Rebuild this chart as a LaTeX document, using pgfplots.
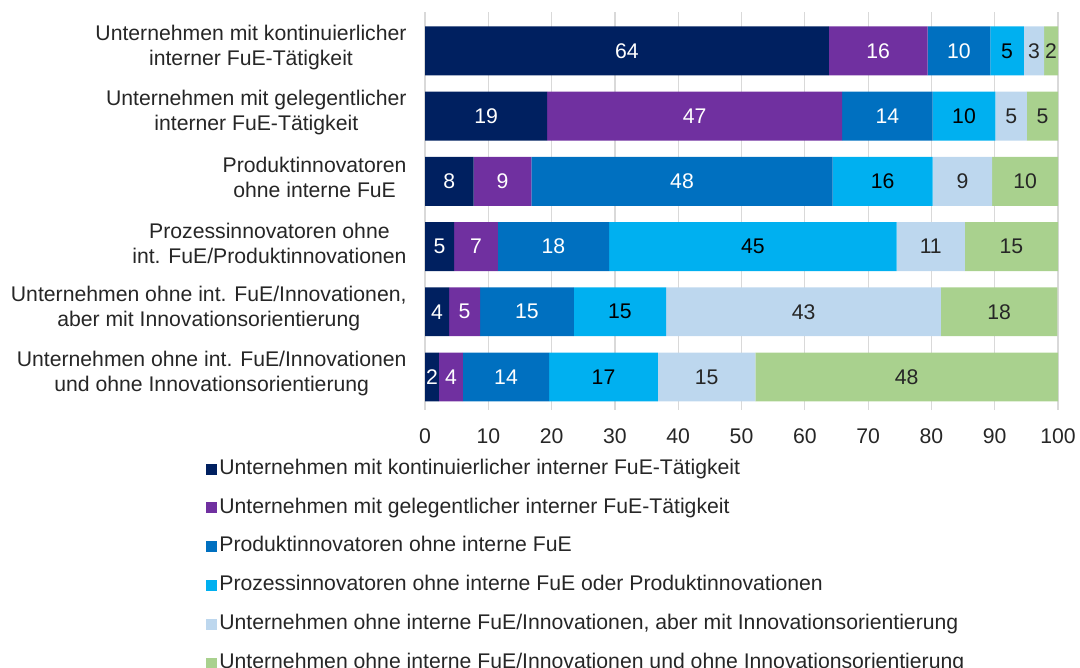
\documentclass[border=0pt]{standalone}
\usepackage{pgfplots}
\pgfplotsset{compat=1.18}
\usepackage{pgfplotstable}
\usepackage{fontspec}
\setmainfont{Liberation Sans}
\definecolor{c1}{HTML}{002060}
\definecolor{c2}{HTML}{7030A0}
\definecolor{c3}{HTML}{0070C0}
\definecolor{c4}{HTML}{00B0F0}
\definecolor{c5}{HTML}{BDD7EE}
\definecolor{c6}{HTML}{A9D18E}
\definecolor{gridc}{HTML}{D9D9D9}
\definecolor{txt}{HTML}{262626}

\pgfplotstableread{
row s1 s2 s3 s4 s5 s6
5 63.8 15.6 9.9 5.3 3.2 2.2
4 19.3 46.6 14.3 9.9 5.0 4.9
3 7.7 9.1 47.6 15.8 9.4 10.4
2 4.6 6.9 17.6 45.4 10.8 14.7
1 3.8 4.9 14.8 14.6 43.4 18.4
0 2.2 3.8 13.6 17.2 15.4 47.8
}\datatable

\pgfplotsset{
  seg/.style n args={3}{
    fill=#2, draw=none,
    visualization depends on={\thisrow{#1}\as\val},
    nodes near coords={\pgfmathprintnumber[fixed,precision=0]{\val}},
    every node near coord/.append style={anchor=center, text=#3, font=\fontsize{10.6}{12}\selectfont},
  },
}

\begin{document}
\begin{tikzpicture}
\path[use as bounding box] (0,0) rectangle (540pt,-334pt);
\begin{axis}[
  at={(212.5pt,-204.8pt)}, anchor=south west,
  scale only axis, width=316.5pt, height=198.9pt,
  xbar stacked, bar width=0.75,
  xmin=0, xmax=100, ymin=-0.5, ymax=5.6,
  xtick={0,10,...,100},
  ytick={0,...,5},
  yticklabels={
    {Unternehmen ohne int. FuE/Innovationen\\und ohne Innovationsorientierung},
    {Unternehmen ohne int. FuE/Innovationen,\\aber mit Innovationsorientierung},
    {Prozessinnovatoren ohne\\int. FuE/Produktinnovationen},
    {Produktinnovatoren\\ohne interne FuE},
    {Unternehmen mit gelegentlicher\\interner FuE-Tätigkeit},
    {Unternehmen mit kontinuierlicher\\interner FuE-Tätigkeit}},
  font=\fontsize{10.6}{12.5}\selectfont,
  yticklabel style={align=center, xshift=-5.7pt, yshift=1.75pt, text=txt},
  xticklabel style={yshift=-6pt, text=txt},
  /pgf/number format/assume math mode=true,
  axis line style={draw=none},
  tick style={draw=none},
  xmajorgrids, grid style={gridc, line width=0.6pt},
  legend image code/.code={\fill[#1] (0pt,-2.75pt) rectangle (5.5pt,2.75pt);},
  legend style={at={(-0.3555,-0.1141)}, anchor=north west, draw=none, fill=none,
    font=\fontsize{10.6}{12}\selectfont, text=txt, row sep=9.7pt,
    nodes={text height=7.5pt, text depth=2.2pt, inner ysep=0pt, inner xsep=1pt}},
  legend cell align=left,
]
\addplot[seg={s1}{c1}{white}] table[x=s1,y=row]{\datatable};
\addplot[seg={s2}{c2}{white}] table[x=s2,y=row]{\datatable};
\addplot[seg={s3}{c3}{white}] table[x=s3,y=row]{\datatable};
\addplot[seg={s4}{c4}{black}] table[x=s4,y=row]{\datatable};
\addplot[seg={s5}{c5}{txt}] table[x=s5,y=row]{\datatable};
\addplot[seg={s6}{c6}{txt}] table[x=s6,y=row]{\datatable};
\legend{Unternehmen mit kontinuierlicher interner FuE-Tätigkeit,
Unternehmen mit gelegentlicher interner FuE-Tätigkeit,
Produktinnovatoren ohne interne FuE,
Prozessinnovatoren ohne interne FuE oder Produktinnovationen,
{Unternehmen ohne interne FuE/Innovationen, aber mit Innovationsorientierung},
Unternehmen ohne interne FuE/Innovationen und ohne Innovationsorientierung}
\end{axis}
\end{tikzpicture}
\end{document}
